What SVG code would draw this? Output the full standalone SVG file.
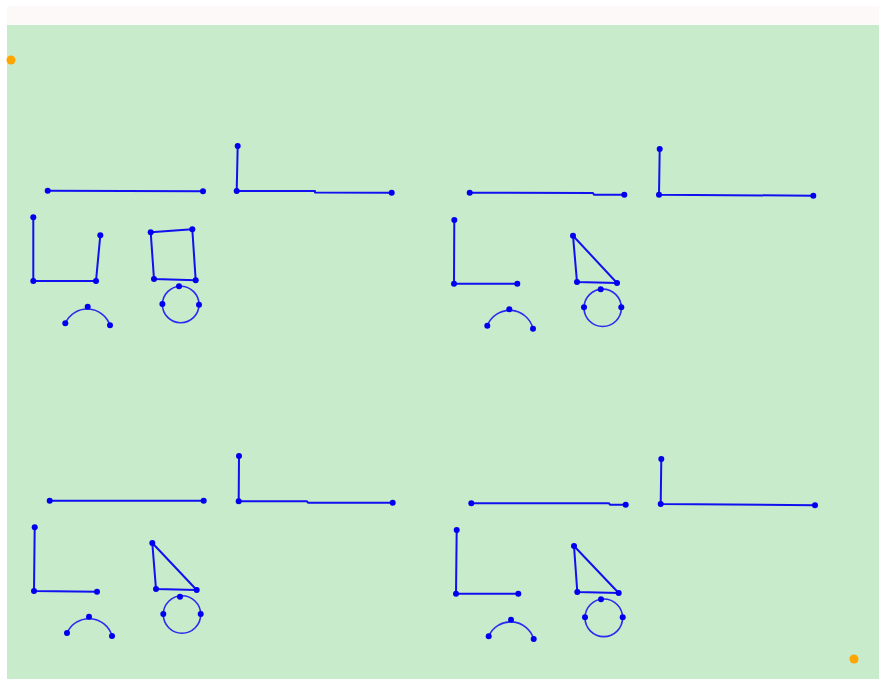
<svg xmlns="http://www.w3.org/2000/svg" width="879" height="679" viewBox="0 0 879 679">
<style>
.ln{fill:none;stroke:#1010f0;stroke-width:2;stroke-linejoin:round;stroke-linecap:round}
.th{fill:none;stroke:#2a2af0;stroke-width:1.6}
.pt{fill:#0000ee}
.or{fill:#ffa500}
</style>
<rect x="0" y="0" width="879" height="679" fill="#ffffff"/>
<rect x="7" y="6" width="872" height="19" fill="#fdf9f8"/>
<rect x="7" y="25" width="872" height="654" fill="#c8ebcb"/>
<circle class="or" cx="11" cy="60" r="4.5"/>
<circle class="or" cx="854" cy="659" r="4.5"/>

<g id="panel-tl">
  <g id="tl-hline"><path class="ln" d="M47.7,190.7 L203,191.3"/><circle class="pt" cx="47.7" cy="190.7" r="3"/><circle class="pt" cx="203" cy="191.3" r="3"/></g>
  <g id="tl-corner"><path class="ln" d="M237.7,146 L236.7,191 L315,191 L315,192.5 L391.7,192.7"/><circle class="pt" cx="237.7" cy="146" r="3"/><circle class="pt" cx="236.7" cy="191" r="3"/><circle class="pt" cx="391.7" cy="192.7" r="3"/></g>
  <g id="tl-u"><path class="ln" d="M33.3,217.3 L33.3,281 L96,281 L100.3,235.3"/><circle class="pt" cx="33.3" cy="217.3" r="3"/><circle class="pt" cx="33.3" cy="281" r="3"/><circle class="pt" cx="96" cy="281" r="3"/><circle class="pt" cx="100.3" cy="235.3" r="3"/></g>
  <g id="tl-square"><path class="ln" d="M150.7,232.3 L192.3,229.3 L195.7,280.3 L154,279 Z"/><circle class="pt" cx="150.7" cy="232.3" r="3"/><circle class="pt" cx="192.3" cy="229.3" r="3"/><circle class="pt" cx="195.7" cy="280.3" r="3"/><circle class="pt" cx="154" cy="279" r="3"/></g>
  <g id="tl-arc"><path class="th" d="M65.3,323.3 A24,24 0 0 1 110,325.3"/><circle class="pt" cx="65.3" cy="323.3" r="3"/><circle class="pt" cx="87.7" cy="306.7" r="3"/><circle class="pt" cx="110" cy="325.3" r="3"/></g>
  <g id="tl-circle"><circle class="th" cx="180.7" cy="304.5" r="18.3"/><circle class="pt" cx="179" cy="286.3" r="3"/><circle class="pt" cx="162.4" cy="304" r="3"/><circle class="pt" cx="199" cy="304.7" r="3"/></g>
</g>

<g id="panel-tr">
  <g id="tr-hline"><path class="ln" d="M469.7,192.7 L593,193 L594,194.7 L624.3,194.7"/><circle class="pt" cx="469.7" cy="192.7" r="3"/><circle class="pt" cx="624.3" cy="194.7" r="3"/></g>
  <g id="tr-corner"><path class="ln" d="M659.7,149 L659,194.7 L813.3,195.7"/><circle class="pt" cx="659.7" cy="149" r="3"/><circle class="pt" cx="659" cy="194.7" r="3"/><circle class="pt" cx="813.3" cy="195.7" r="3"/></g>
  <g id="tr-l"><path class="ln" d="M454.3,220 L454,283.7 L517.3,283.7"/><circle class="pt" cx="454.3" cy="220" r="3"/><circle class="pt" cx="454" cy="283.7" r="3"/><circle class="pt" cx="517.3" cy="283.7" r="3"/></g>
  <g id="tr-triangle"><path class="ln" d="M573,235.7 L577,282 L617,283 Z"/><circle class="pt" cx="573" cy="235.7" r="3"/><circle class="pt" cx="577" cy="282" r="3"/><circle class="pt" cx="617" cy="283" r="3"/></g>
  <g id="tr-arc"><path class="th" d="M487.3,325.7 A24,24 0 0 1 533,328.7"/><circle class="pt" cx="487.3" cy="325.7" r="3"/><circle class="pt" cx="509.3" cy="309.3" r="3"/><circle class="pt" cx="533" cy="328.7" r="3"/></g>
  <g id="tr-circle"><circle class="th" cx="602.7" cy="307.8" r="18.7"/><circle class="pt" cx="600.7" cy="289.3" r="3"/><circle class="pt" cx="584" cy="307.3" r="3"/><circle class="pt" cx="621.3" cy="307.3" r="3"/></g>
</g>

<g id="panel-bl">
  <g id="bl-hline"><path class="ln" d="M49.7,500.7 L203.7,500.7"/><circle class="pt" cx="49.7" cy="500.7" r="3"/><circle class="pt" cx="203.7" cy="500.7" r="3"/></g>
  <g id="bl-corner"><path class="ln" d="M239,456 L238.7,501.3 L307,501.3 L308,502.7 L392.7,502.7"/><circle class="pt" cx="239" cy="456" r="3"/><circle class="pt" cx="238.7" cy="501.3" r="3"/><circle class="pt" cx="392.7" cy="502.7" r="3"/></g>
  <g id="bl-l"><path class="ln" d="M34.7,527.3 L34,591 L97,591.7"/><circle class="pt" cx="34.7" cy="527.3" r="3"/><circle class="pt" cx="34" cy="591" r="3"/><circle class="pt" cx="97" cy="591.7" r="3"/></g>
  <g id="bl-triangle"><path class="ln" d="M152.3,543 L156,589 L196.7,590 Z"/><circle class="pt" cx="152.3" cy="543" r="3"/><circle class="pt" cx="156" cy="589" r="3"/><circle class="pt" cx="196.7" cy="590" r="3"/></g>
  <g id="bl-arc"><path class="th" d="M67,633 A24,24 0 0 1 112,636"/><circle class="pt" cx="67" cy="633" r="3"/><circle class="pt" cx="89" cy="616.7" r="3"/><circle class="pt" cx="112" cy="636" r="3"/></g>
  <g id="bl-circle"><circle class="th" cx="182" cy="614.5" r="18.7"/><circle class="pt" cx="180" cy="596.7" r="3"/><circle class="pt" cx="163.3" cy="614" r="3"/><circle class="pt" cx="200.7" cy="614" r="3"/></g>
</g>

<g id="panel-br">
  <g id="br-hline"><path class="ln" d="M471.3,503.3 L609,503.3 L610,504.7 L625.7,504.7"/><circle class="pt" cx="471.3" cy="503.3" r="3"/><circle class="pt" cx="625.7" cy="504.7" r="3"/></g>
  <g id="br-corner"><path class="ln" d="M661.3,459 L660.7,504 L815,505.3"/><circle class="pt" cx="661.3" cy="459" r="3"/><circle class="pt" cx="660.7" cy="504" r="3"/><circle class="pt" cx="815" cy="505.3" r="3"/></g>
  <g id="br-l"><path class="ln" d="M456.7,530 L456,593.7 L518.3,593.7"/><circle class="pt" cx="456.7" cy="530" r="3"/><circle class="pt" cx="456" cy="593.7" r="3"/><circle class="pt" cx="518.3" cy="593.7" r="3"/></g>
  <g id="br-triangle"><path class="ln" d="M574,546 L577.3,592 L618.7,593 Z"/><circle class="pt" cx="574" cy="546" r="3"/><circle class="pt" cx="577.3" cy="592" r="3"/><circle class="pt" cx="618.7" cy="593" r="3"/></g>
  <g id="br-arc"><path class="th" d="M488.7,636.3 A24,24 0 0 1 533.7,639"/><circle class="pt" cx="488.7" cy="636.3" r="3"/><circle class="pt" cx="511" cy="619.7" r="3"/><circle class="pt" cx="533.7" cy="639" r="3"/></g>
  <g id="br-circle"><circle class="th" cx="603.8" cy="617.8" r="18.8"/><circle class="pt" cx="601" cy="599.3" r="3"/><circle class="pt" cx="585" cy="617.3" r="3"/><circle class="pt" cx="622.7" cy="617.3" r="3"/></g>
</g>
</svg>
